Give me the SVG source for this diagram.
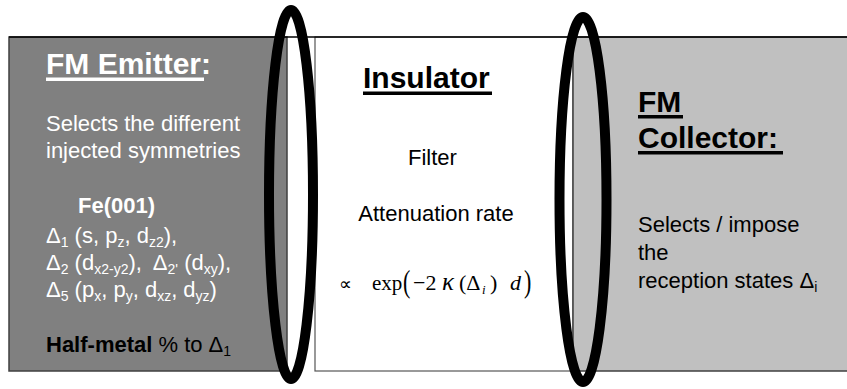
<svg xmlns="http://www.w3.org/2000/svg" width="847" height="389" viewBox="0 0 847 389">
<style>
.t{font-family:"Liberation Sans",Arial,sans-serif;font-size:22px}
.h{font-family:"Liberation Sans",Arial,sans-serif;font-size:30px;font-weight:bold}
.b{font-weight:bold}
.w{fill:#ffffff}
.k{fill:#000000}
.s{font-size:14px}
.m{font-family:"Liberation Serif","Times New Roman",serif;font-size:22px;fill:#000}
.ring{fill:none;stroke:#000;stroke-width:10}
</style>
<rect width="847" height="389" fill="#ffffff"/>
<g id="emitter">
<rect x="9" y="37" width="278" height="334" fill="#808080" stroke="#404040" stroke-width="1.5"/>
<text class="h w" x="46" y="74">FM Emitter:</text>
<rect x="46" y="77.5" width="158" height="3.5" fill="#fff"/>
<text class="t w" x="46" y="131">Selects the different</text>
<text class="t w" x="46" y="158">injected symmetries</text>
<text class="t w b" x="78" y="213">Fe(001)</text>
<text class="t w" x="46" y="243">Δ<tspan class="s" dy="4">1</tspan><tspan dy="-4"> (s, p</tspan><tspan class="s" dy="4">z</tspan><tspan dy="-4">, d</tspan><tspan class="s" dy="4">z2</tspan><tspan dy="-4">),</tspan></text>
<text class="t w" x="46" y="270">Δ<tspan class="s" dy="4">2</tspan><tspan dy="-4"> (d</tspan><tspan class="s" dy="4">x2-y2</tspan><tspan dy="-4">),&#160; Δ</tspan><tspan class="s" dy="4">2'</tspan><tspan dy="-4"> (d</tspan><tspan class="s" dy="4">xy</tspan><tspan dy="-4">),</tspan></text>
<text class="t w" x="46" y="297">Δ<tspan class="s" dy="4">5</tspan><tspan dy="-4"> (p</tspan><tspan class="s" dy="4">x</tspan><tspan dy="-4">, p</tspan><tspan class="s" dy="4">y</tspan><tspan dy="-4">, d</tspan><tspan class="s" dy="4">xz</tspan><tspan dy="-4">, d</tspan><tspan class="s" dy="4">yz</tspan><tspan dy="-4">)</tspan></text>
<text class="t k" x="46" y="352"><tspan class="b">Half-metal</tspan> % to Δ<tspan class="s" dy="4">1</tspan></text>
</g>
<g id="insulator">
<rect x="315" y="37" width="258" height="334" fill="#ffffff" stroke="#555555" stroke-width="1.2"/>
<text class="h k" x="363" y="88">Insulator</text>
<rect x="363" y="91.5" width="129" height="3.5" fill="#000"/>
<text class="t k" x="432.5" y="165" text-anchor="middle">Filter</text>
<text class="t k" x="436" y="221" text-anchor="middle">Attenuation rate</text>
<text class="m" x="339" y="290" style="font-size:18px">∝</text>
<text class="m" x="372" y="290" style="font-size:21px">exp</text>
<text class="m" transform="translate(403,292) scale(1,1.4)" x="0" y="0">(</text>
<text class="m" x="413" y="290">−2</text>
<text class="m" x="442" y="290" style="font-style:italic;font-size:25px">κ</text>
<text class="m" x="459" y="290">(Δ</text>
<text class="m" x="482" y="294" style="font-size:13px;font-style:italic">i</text>
<text class="m" x="490" y="290">)</text>
<text class="m" x="510" y="290" style="font-style:italic">d</text>
<text class="m" transform="translate(524,292) scale(1,1.4)" x="0" y="0">)</text>
</g>
<g id="collector">
<rect x="573" y="37" width="280" height="334" fill="#c0c0c0" stroke="#404040" stroke-width="1.5"/>
<text class="h k" x="638" y="112">FM</text>
<rect x="638" y="115" width="45" height="3.5" fill="#000"/>
<text class="h k" x="638" y="147.5">Collector:</text>
<rect x="638" y="151" width="145" height="3.5" fill="#000"/>
<text class="t k" x="638" y="232">Selects / impose</text>
<text class="t k" x="638" y="260">the</text>
<text class="t k" x="638" y="288">reception states Δ<tspan class="s" dy="4">i</tspan></text>
</g>
<line x1="9" y1="37" x2="847" y2="37" stroke="#000" stroke-width="1.5"/>
<g id="interfaces">
<ellipse id="interface-left" class="ring" cx="291" cy="194.5" rx="22" ry="184.5"/>
<ellipse id="interface-right" class="ring" cx="583" cy="199.5" rx="23.5" ry="182.5"/>
</g>
</svg>
